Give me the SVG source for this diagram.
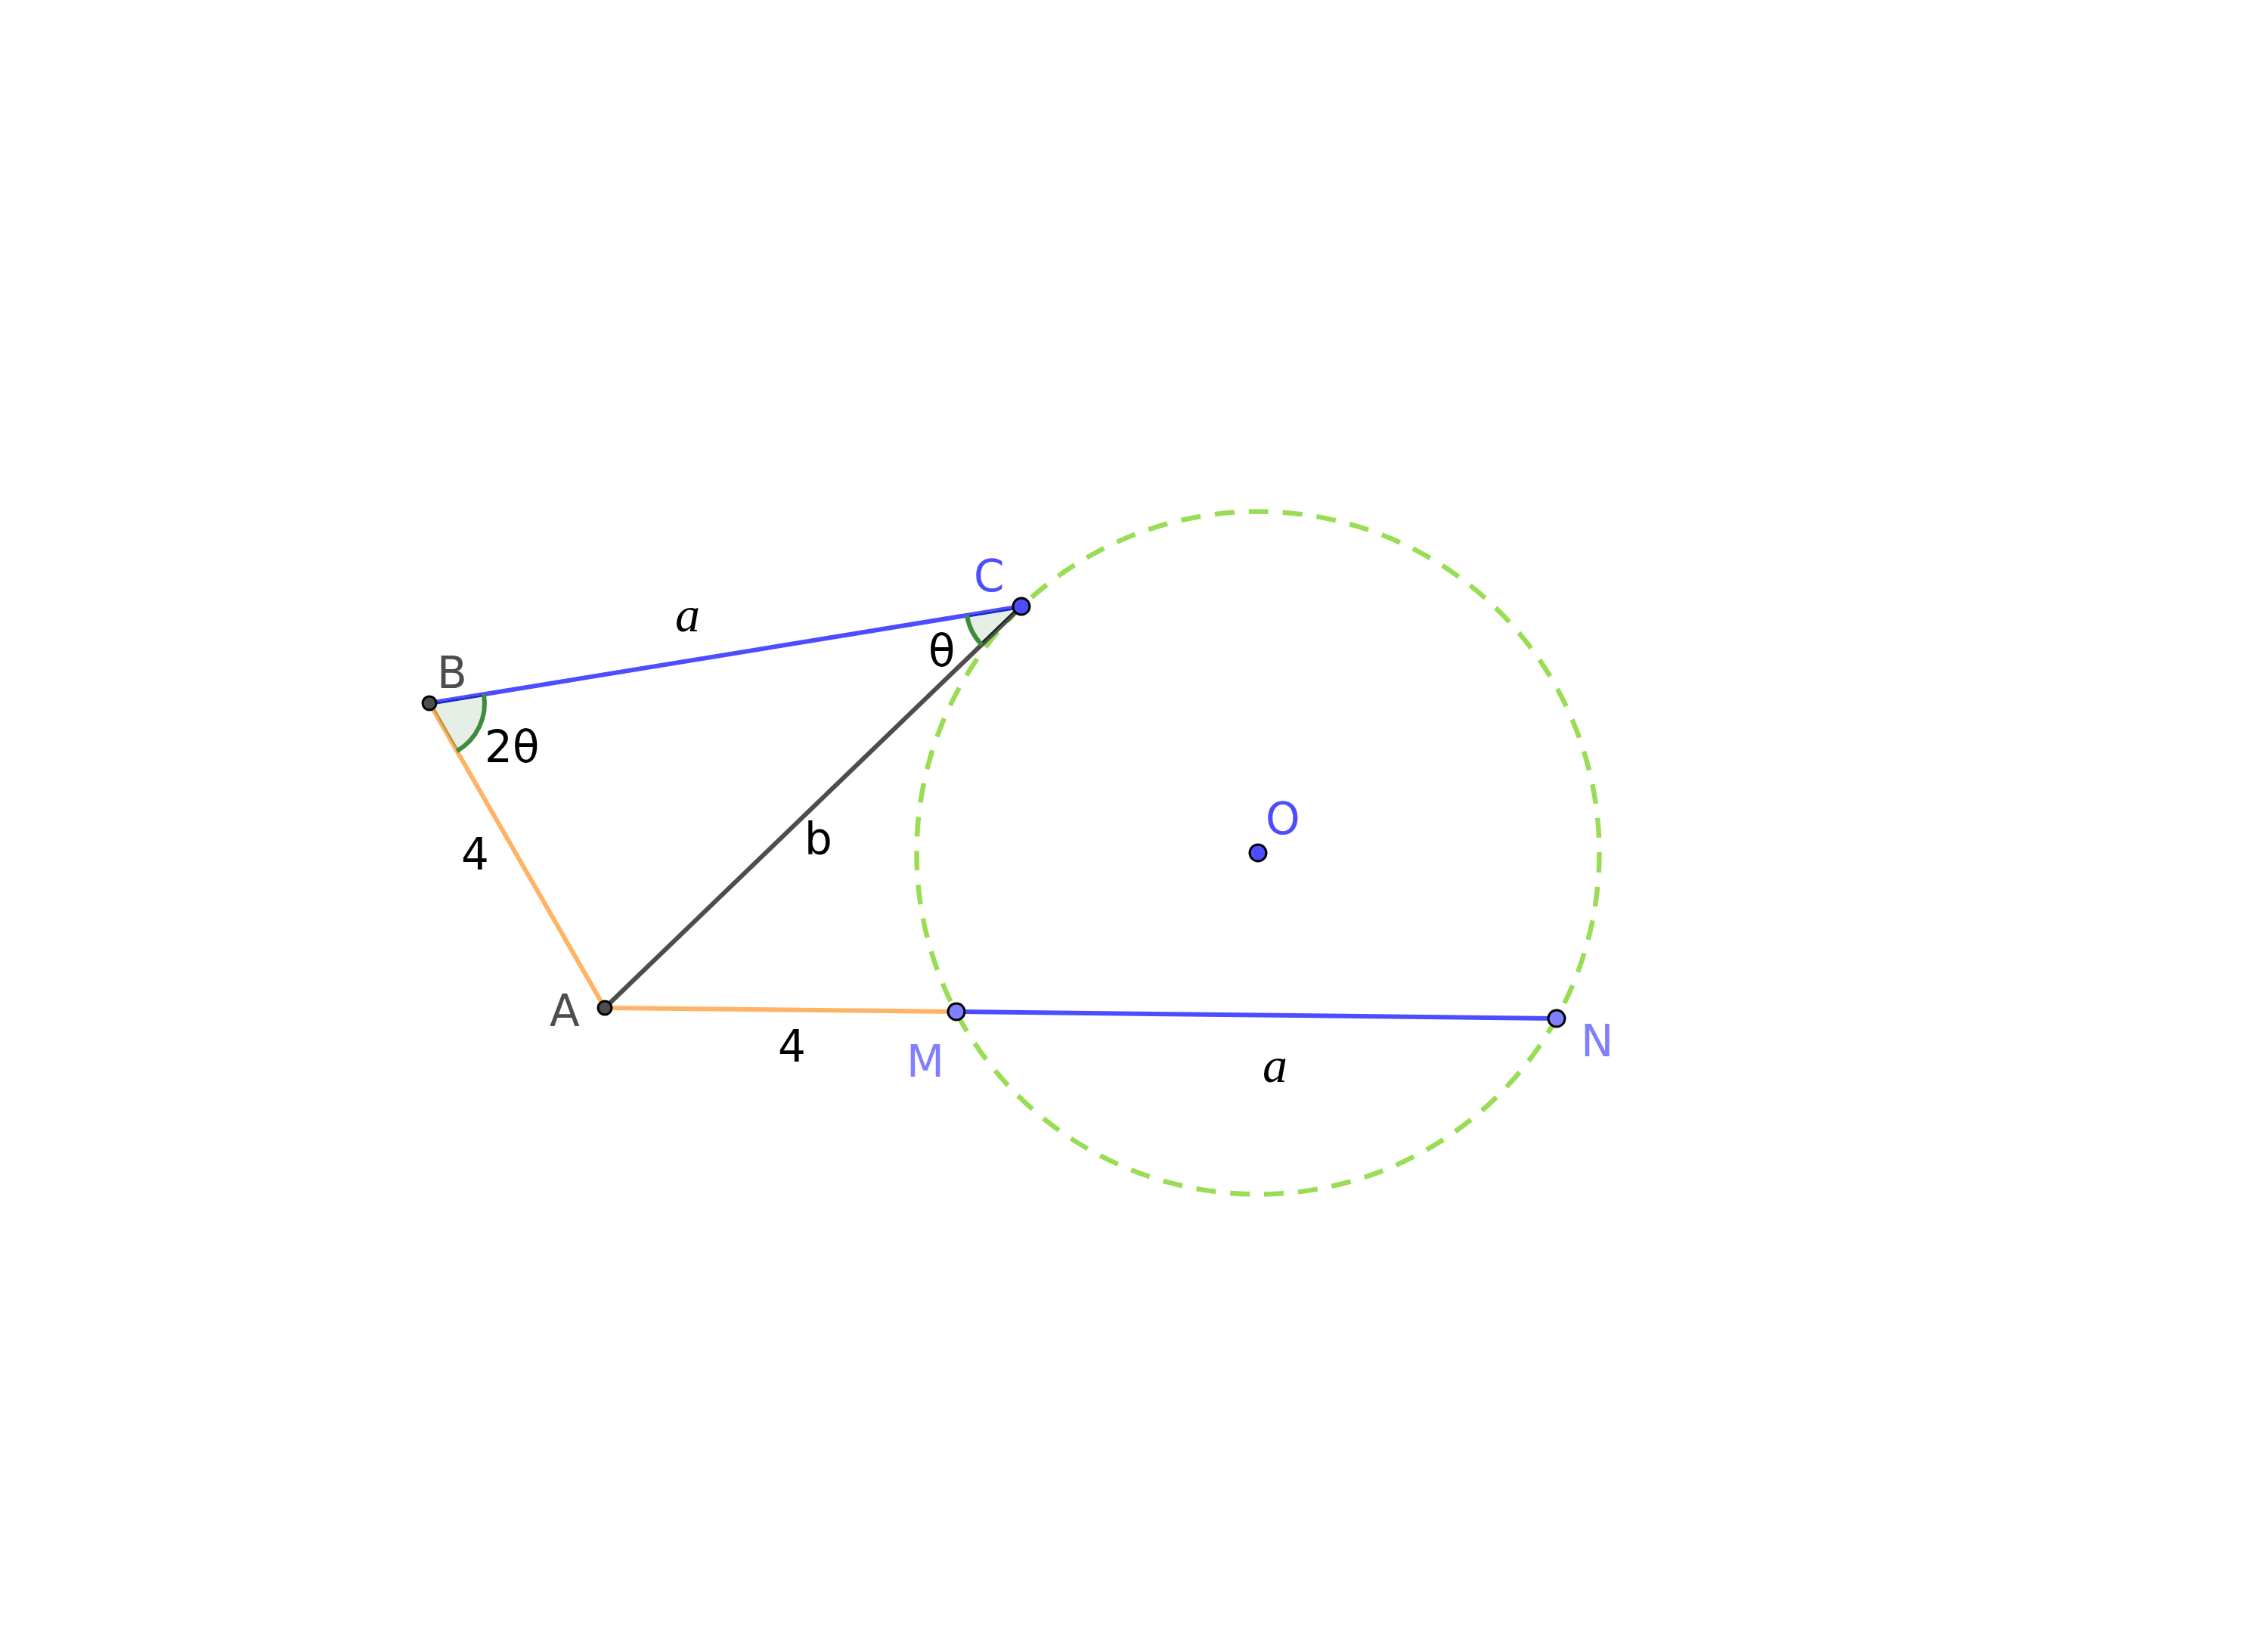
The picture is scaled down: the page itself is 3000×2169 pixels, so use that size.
<svg xmlns="http://www.w3.org/2000/svg" width="3000" height="2169" viewBox="0 0 3000 2169">
<style>
.seg{stroke-width:6;stroke-linecap:butt;fill:none}
.blue{stroke:#4D4DFF}
.orange{stroke:#FFB366}
.gray{stroke:#4D4D4D}
.sector{fill:#E5EFE5;stroke:none}
.arc{fill:none;stroke:#3F8C3F;stroke-width:6}
.pt{stroke:#000;stroke-width:3}
.lbl{font-family:"DejaVu Sans","Liberation Sans",sans-serif;font-size:58px}
.var{font-family:"Liberation Serif","DejaVu Serif",serif;font-style:italic;font-size:66px;fill:#000}
</style>
<defs>
<clipPath id="clipB"><path d="M568,930 L640.0,918.2 A73,73 0 0 1 604.4,993.3 Z"/></clipPath>
<clipPath id="clipC"><path d="M1351,802 L1298.4,852.7 A73,73 0 0 1 1279.0,813.8 Z"/></clipPath>
</defs>
<rect width="3000" height="2169" fill="#fff"/>
<g id="circle-O">
<circle cx="1664" cy="1128" r="451.5" fill="none" stroke="#99DD55" stroke-width="6.5" stroke-dasharray="26 19"/>
</g>
<g id="connectors">
<line id="seg-BC" class="seg blue" x1="568" y1="930" x2="1351" y2="802"/>
<line id="seg-BA" class="seg orange" x1="568" y1="930" x2="800" y2="1333"/>
<line id="seg-AC" class="seg gray" x1="800" y1="1333" x2="1351" y2="802"/>
<line id="seg-AM" class="seg orange" x1="800" y1="1333" x2="1265" y2="1338"/>
<line id="seg-MN" class="seg blue" x1="1265" y1="1338" x2="2059" y2="1347"/>
</g>
<g id="angle-B">
<path class="sector" d="M568,930 L640.0,918.2 A73,73 0 0 1 604.4,993.3 Z"/>
<g clip-path="url(#clipB)">
<line class="seg" stroke="#1F28CC" x1="568" y1="930" x2="1351" y2="802"/>
<line class="seg" stroke="#C8963C" x1="568" y1="930" x2="800" y2="1333"/>
</g>
<path class="arc" d="M640.0,918.2 A73,73 0 0 1 604.4,993.3"/>
</g>
<g id="angle-C">
<path class="sector" d="M1351,802 L1298.4,852.7 A73,73 0 0 1 1279.0,813.8 Z"/>
<g clip-path="url(#clipC)">
<line class="seg" stroke="#1F28CC" x1="568" y1="930" x2="1351" y2="802"/>
<line class="seg" stroke="#1E2A1E" x1="800" y1="1333" x2="1351" y2="802"/>
</g>
<path class="arc" d="M1298.4,852.7 A73,73 0 0 1 1279.0,813.8"/>
</g>
<g id="point-B"><circle class="pt" cx="568" cy="930" r="9" fill="#4D4D4D"/><text class="lbl" x="578" y="910" fill="#4D4D4D">B</text></g>
<g id="point-A"><circle class="pt" cx="800" cy="1333" r="9" fill="#4D4D4D"/><text class="lbl" x="727" y="1357" fill="#4D4D4D">A</text></g>
<g id="point-C"><circle class="pt" cx="1351" cy="802" r="11" fill="#4D4DFF"/><text class="lbl" x="1288" y="782" fill="#4D4DFF">C</text></g>
<g id="point-O"><circle class="pt" cx="1664" cy="1128" r="11" fill="#4D4DFF"/><text class="lbl" x="1674" y="1103" fill="#4D4DFF">O</text></g>
<g id="point-M"><circle class="pt" cx="1265" cy="1338" r="11" fill="#7F7FFF"/><text class="lbl" x="1199" y="1424" fill="#7F7FFF">M</text></g>
<g id="point-N"><circle class="pt" cx="2059" cy="1347" r="11" fill="#7F7FFF"/><text class="lbl" x="2091" y="1397" fill="#7F7FFF">N</text></g>
<g id="labels">
<text class="var" x="893" y="835">a</text>
<text class="var" x="1670" y="1431">a</text>
<text class="lbl" x="641" y="1008" fill="#000">2θ</text>
<text class="lbl" x="1228" y="881" fill="#000">θ</text>
<text class="lbl" x="610" y="1150" fill="#000">4</text>
<text class="lbl" x="1029" y="1404" fill="#000">4</text>
<text class="lbl" x="1064" y="1130" fill="#000">b</text>
</g>
</svg>
